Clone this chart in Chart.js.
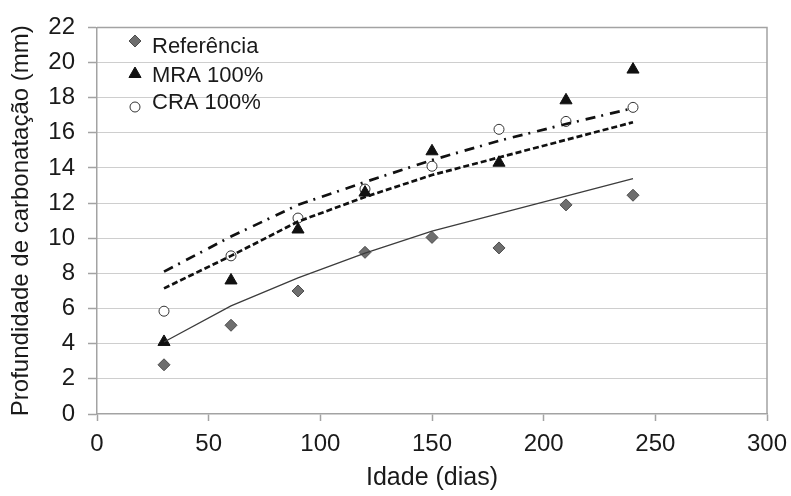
<!DOCTYPE html>
<html>
<head>
<meta charset="utf-8">
<script src="https://cdn.jsdelivr.net/npm/chart.js@4/dist/chart.umd.min.js"></script>
<style>
  html, body { margin: 0; padding: 0; background: #ffffff; }
  #wrap { width: 791px; height: 496px; }
</style>
</head>
<body>
<div id="wrap"><canvas id="grafico" width="791" height="496"></canvas></div>
<script>
// Idade dos corpos de prova (dias)
const idadeDias = [30, 60, 90, 120, 150, 180, 210, 240];

// Profundidade de carbonatação medida (mm)
const referencia = [2.8, 5.05, 7.0, 9.2, 10.05, 9.45, 11.9, 12.45];
const mra100 = [4.1, 7.6, 10.5, 12.6, 14.95, 14.3, 17.85, 19.6];
const cra100 = [5.85, 9.0, 11.15, 12.8, 14.1, 16.2, 16.65, 17.45];

// Curvas de tendência (mm)
const tendReferencia = [4.1, 6.15, 7.75, 9.15, 10.4, 11.4, 12.4, 13.4];
const tendMra100 = [7.15, 9.0, 10.95, 12.35, 13.6, 14.6, 15.6, 16.6];
const tendCra100 = [8.1, 10.1, 11.9, 13.2, 14.45, 15.55, 16.5, 17.4];

// Marcas dos eixos
const ticksX = [0, 50, 100, 150, 200, 250, 300];
const ticksY = [0, 2, 4, 6, 8, 10, 12, 14, 16, 18, 20, 22];

const FONTE = "'Liberation Sans', Arial, Helvetica, sans-serif";
const COR_EIXO = '#a3a3a3';
const COR_TEXTO = '#1a1a1a';

const pares = (ys) => idadeDias.map((x, i) => ({ x: x, y: ys[i] }));

function marcador(ctx, estilo, x, y, r, fundo, borda, esp) {
  ctx.save();
  ctx.beginPath();
  if (estilo === 'rectRot') {
    ctx.moveTo(x, y - r); ctx.lineTo(x + r, y); ctx.lineTo(x, y + r); ctx.lineTo(x - r, y);
    ctx.closePath();
  } else if (estilo === 'triangle') {
    const h = r * 1.5, w = r * Math.sqrt(3) / 2;
    ctx.moveTo(x, y - h / 2 - r / 4);
    ctx.lineTo(x + w, y + h / 2 - r / 4);
    ctx.lineTo(x - w, y + h / 2 - r / 4);
    ctx.closePath();
  } else {
    ctx.arc(x, y, r, 0, Math.PI * 2);
  }
  ctx.fillStyle = fundo;
  ctx.fill();
  ctx.lineWidth = esp;
  ctx.strokeStyle = borda;
  ctx.stroke();
  ctx.restore();
}

// Moldura superior e direita da área de plotagem
const moldura = {
  id: 'moldura',
  beforeDatasetsDraw(chart) {
    const { ctx, chartArea: a } = chart;
    ctx.save();
    ctx.strokeStyle = COR_EIXO;
    ctx.lineWidth = 1.5;
    ctx.beginPath();
    ctx.moveTo(a.left, a.top);
    ctx.lineTo(a.right, a.top);
    ctx.lineTo(a.right, a.bottom);
    ctx.stroke();
    ctx.restore();
  }
};

// Legenda dentro da área de plotagem (apenas as séries medidas)
const legendaInterna = {
  id: 'legendaInterna',
  afterDraw(chart) {
    const { ctx } = chart;
    const itens = chart.data.datasets.filter(d => !d.showLine);
    const marcaY = [41, 74, 107];
    const textoY = [47, 76, 103];
    ctx.save();
    ctx.font = '22px ' + FONTE;
    ctx.fillStyle = COR_TEXTO;
    ctx.textBaseline = 'middle';
    ctx.textAlign = 'left';
    itens.forEach((d, i) => {
      marcador(ctx, d.pointStyle, 135, marcaY[i], d.pointRadius,
        d.backgroundColor, d.borderColor, d.borderWidth);
      ctx.fillText(d.label, 152, textoY[i]);
    });
    ctx.restore();
  }
};

const ctx = document.getElementById('grafico').getContext('2d');

new Chart(ctx, {
  type: 'scatter',
  data: {
    datasets: [
      {
        label: 'Referência', data: pares(referencia), showLine: false,
        pointStyle: 'rectRot', pointRadius: 6, backgroundColor: '#6e6e6e',
        borderColor: '#4d4d4d', borderWidth: 1, order: 3
      },
      {
        label: 'MRA 100%', data: pares(mra100), showLine: false,
        pointStyle: 'triangle', pointRadius: 7, backgroundColor: '#111111',
        borderColor: '#111111', borderWidth: 1, order: 1
      },
      {
        label: 'CRA 100%', data: pares(cra100), showLine: false,
        pointStyle: 'circle', pointRadius: 5, backgroundColor: '#ffffff',
        borderColor: '#333333', borderWidth: 1, order: 2
      },
      {
        label: 'tendReferencia', data: pares(tendReferencia), showLine: true,
        borderColor: '#3c3c3c', borderWidth: 1.3, pointRadius: 0, tension: 0,
        fill: false, order: 0
      },
      {
        label: 'tendMra100', data: pares(tendMra100), showLine: true,
        borderColor: '#111111', borderWidth: 2.7, borderDash: [6, 3],
        pointRadius: 0, tension: 0, fill: false, order: 0
      },
      {
        label: 'tendCra100', data: pares(tendCra100), showLine: true,
        borderColor: '#111111', borderWidth: 2.7, borderDash: [10, 6, 2, 7],
        pointRadius: 0, tension: 0, fill: false, order: 0
      }
    ]
  },
  options: {
    responsive: false,
    animation: false,
    devicePixelRatio: 1,
    layout: { padding: { top: 23, right: 24, left: 0, bottom: 0 } },
    plugins: {
      legend: { display: false },
      tooltip: { enabled: false }
    },
    scales: {
      x: {
        type: 'linear',
        min: ticksX[0], max: ticksX[ticksX.length - 1],
        afterBuildTicks(scale) { scale.ticks = ticksX.map(v => ({ value: v })); },
        afterFit(scale) { scale.height = 82; scale.paddingRight = 0; },
        ticks: {
          color: COR_TEXTO, padding: 9, maxRotation: 0,
          font: { family: FONTE, size: 24 }
        },
        grid: {
          drawOnChartArea: false, drawTicks: true, tickLength: 7,
          tickColor: COR_EIXO, tickWidth: 1.5
        },
        border: { display: true, color: COR_EIXO, width: 1.5 },
        title: {
          display: true, text: 'Idade (dias)', color: COR_TEXTO,
          font: { family: FONTE, size: 25 }, padding: { top: 0, bottom: 3 }
        }
      },
      y: {
        type: 'linear',
        min: ticksY[0], max: ticksY[ticksY.length - 1],
        afterBuildTicks(scale) { scale.ticks = ticksY.map(v => ({ value: v })); },
        afterFit(scale) { scale.width = 97; },
        ticks: {
          color: COR_TEXTO, padding: 13,
          font: { family: FONTE, size: 24 }
        },
        grid: {
          drawOnChartArea: true, drawTicks: true, tickLength: 9,
          color: (c) => (c.tick && (c.tick.value === 0 || c.tick.value === 22)) ? 'rgba(0,0,0,0)' : '#9c9c9c',
          lineWidth: 1,
          tickColor: COR_EIXO, tickWidth: 1.5
        },
        border: { display: true, color: COR_EIXO, width: 1.5, dash: [1, 1] },
        title: {
          display: true, text: 'Profundidade de carbonatação (mm)', color: COR_TEXTO,
          font: { family: FONTE, size: 24 }, padding: { top: 7, bottom: 0 }
        }
      }
    }
  },
  plugins: [moldura, legendaInterna]
});
</script>
</body>
</html>
